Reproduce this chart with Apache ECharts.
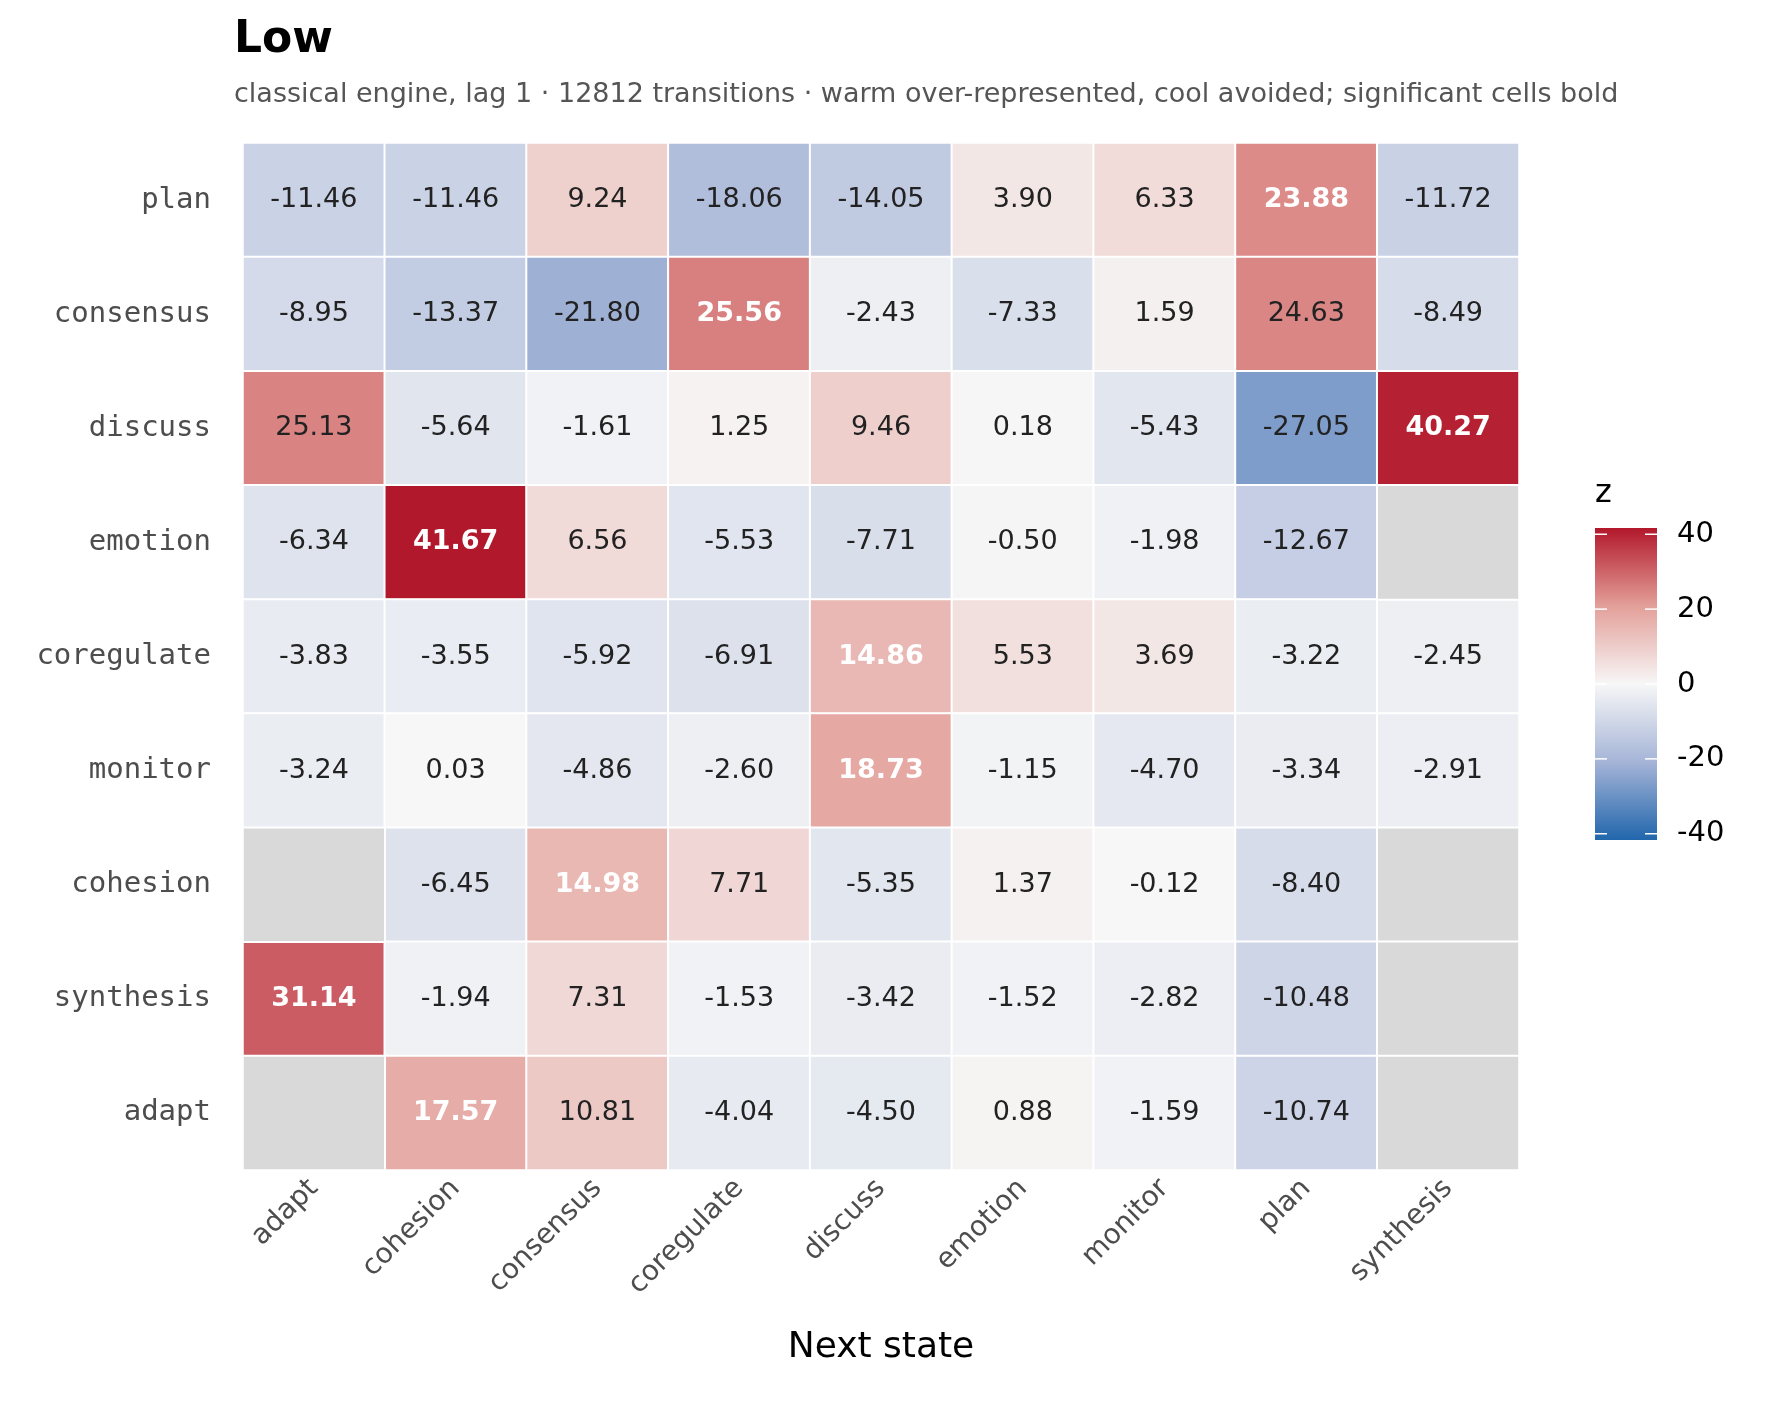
<!DOCTYPE html>
<html>
<head>
<meta charset="utf-8">
<script src="https://cdn.jsdelivr.net/npm/echarts@6/dist/echarts.min.js"></script>
<style>
  html, body { margin: 0; padding: 0; background: #fff; }
  #chart { width: 1768px; height: 1404px; }
</style>
</head>
<body>
<div id="chart"></div>
<script>
var nextStates = ["adapt", "cohesion", "consensus", "coregulate", "discuss", "emotion", "monitor", "plan", "synthesis"];
// rows listed top to bottom as drawn
var fromStates = ["plan", "consensus", "discuss", "emotion", "coregulate", "monitor", "cohesion", "synthesis", "adapt"];
var zRows = [
  [-11.46, -11.46, 9.24, -18.06, -14.05, 3.90, 6.33, 23.88, -11.72],
  [-8.95, -13.37, -21.80, 25.56, -2.43, -7.33, 1.59, 24.63, -8.49],
  [25.13, -5.64, -1.61, 1.25, 9.46, 0.18, -5.43, -27.05, 40.27],
  [-6.34, 41.67, 6.56, -5.53, -7.71, -0.50, -1.98, -12.67, null],
  [-3.83, -3.55, -5.92, -6.91, 14.86, 5.53, 3.69, -3.22, -2.45],
  [-3.24, 0.03, -4.86, -2.60, 18.73, -1.15, -4.70, -3.34, -2.91],
  [null, -6.45, 14.98, 7.71, -5.35, 1.37, -0.12, -8.40, null],
  [31.14, -1.94, 7.31, -1.53, -3.42, -1.52, -2.82, -10.48, null],
  [null, 17.57, 10.81, -4.04, -4.50, 0.88, -1.59, -10.74, null]
];
var sigRows = [
  [0, 0, 0, 0, 0, 0, 0, 1, 0],
  [0, 0, 0, 1, 0, 0, 0, 0, 0],
  [0, 0, 0, 0, 0, 0, 0, 0, 1],
  [0, 1, 0, 0, 0, 0, 0, 0, 0],
  [0, 0, 0, 0, 1, 0, 0, 0, 0],
  [0, 0, 0, 0, 1, 0, 0, 0, 0],
  [0, 0, 1, 0, 0, 0, 0, 0, 0],
  [1, 0, 0, 0, 0, 0, 0, 0, 0],
  [0, 1, 0, 0, 0, 0, 0, 0, 0]
];
var legendTicks = [40, 20, 0, -20, -40];

var yCats = fromStates.slice().reverse();
var cells = [];
var naCells = [];
for (var r = 0; r < fromStates.length; r++) {
  var yi = yCats.indexOf(fromStates[r]);
  for (var c = 0; c < nextStates.length; c++) {
    var v = zRows[r][c];
    if (v === null) {
      naCells.push([c, yi, 0]);
      continue;
    }
    var sig = sigRows[r][c] === 1;
    cells.push({
      value: [c, yi, v],
      label: sig ? { color: "#ffffff", fontWeight: "bold" } : { color: "#222222" }
    });
  }
}

var myChart = echarts.init(document.getElementById("chart"));
var zmax = 41.67;
var barTop = 528, barH = 312;
myChart.setOption({
  animation: false,
  title: {
    text: "Low",
    subtext: "classical engine, lag 1 · 12812 transitions · warm over-represented, cool avoided; significant cells bold",
    left: 229, top: 14,
    textStyle: { fontSize: 44, fontWeight: "bold", color: "#000", fontFamily: "DejaVu Sans" },
    subtextStyle: { fontSize: 27, color: "#555", fontFamily: "DejaVu Sans" },
    itemGap: 18
  },
  grid: { left: 243, top: 143, width: 1276, height: 1027 },
  xAxis: {
    type: "category", data: nextStates,
    name: "Next state", nameLocation: "middle", nameGap: 160,
    nameTextStyle: { fontSize: 36, color: "#000", fontFamily: "DejaVu Sans" },
    axisLine: { show: false }, axisTick: { show: false }, splitLine: { show: false },
    axisLabel: { rotate: 45, fontSize: 28, color: "#4d4d4d", fontFamily: "DejaVu Sans", margin: 14, interval: 0 }
  },
  yAxis: {
    type: "category", data: yCats,
    axisLine: { show: false }, axisTick: { show: false }, splitLine: { show: false },
    axisLabel: { fontSize: 29, color: "#4d4d4d", fontFamily: "DejaVu Sans Mono", margin: 32 }
  },
  visualMap: {
    type: "continuous", seriesIndex: 0, min: -zmax, max: zmax, calculable: false,
    left: 1595, top: barTop, itemWidth: 62, itemHeight: barH,
    text: null, show: false,
    inRange: { color: ["#2166ac", "#a5b4d7", "#f7f7f7", "#e39f99", "#b2182b"] }
  },
  series: [
    {
      type: "heatmap", data: cells,
      itemStyle: { borderColor: "#ffffff", borderWidth: 2 },
      label: {
        show: true, fontSize: 27, fontFamily: "DejaVu Sans",
        formatter: function (p) { return p.value[2].toFixed(2); }
      }
    },
    {
      type: "heatmap", data: naCells,
      itemStyle: { color: "#d9d9d9", borderColor: "#ffffff", borderWidth: 2 },
      label: { show: false }
    }
  ],
  graphic: (function () {
    var g = [];
    var stops = [
      { offset: 0, color: "#b2182b" }, { offset: 0.25, color: "#e39f99" },
      { offset: 0.5, color: "#f7f7f7" }, { offset: 0.75, color: "#a5b4d7" },
      { offset: 1, color: "#2166ac" }
    ];
    g.push({ type: "rect", left: 1595, top: barTop, shape: { width: 62, height: barH },
      style: { fill: new echarts.graphic.LinearGradient(0, 0, 0, 1, stops) } });
    g.push({ type: "text", left: 1595, top: 478, style: { text: "z", fontSize: 32, fill: "#000", fontFamily: "DejaVu Sans" } });
    for (var i = 0; i < legendTicks.length; i++) {
      var t = legendTicks[i];
      var y = barTop + (zmax - t) / (2 * zmax) * barH;
      g.push({ type: "line", shape: { x1: 1595, y1: y, x2: 1607, y2: y }, style: { stroke: "#fff", lineWidth: 1.5 } });
      g.push({ type: "line", shape: { x1: 1645, y1: y, x2: 1657, y2: y }, style: { stroke: "#fff", lineWidth: 1.5 } });
      g.push({ type: "text", x: 1677, y: y, style: { text: String(t), fontSize: 29, fill: "#000", fontFamily: "DejaVu Sans", verticalAlign: "middle" } });
    }
    return g;
  })()
});
</script>
</body>
</html>
